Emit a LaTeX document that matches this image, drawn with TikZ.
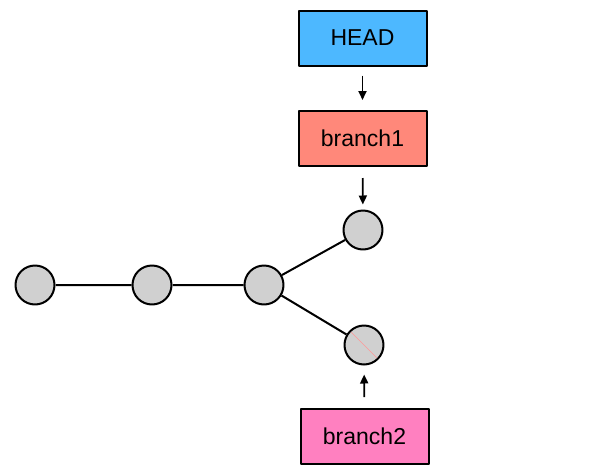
\documentclass[tikz,border=0pt]{standalone}
\usepackage{fontspec}
\setmainfont{Liberation Sans}
\usetikzlibrary{arrows.meta}
\definecolor{headblue}{RGB}{77,184,255}
\definecolor{branchred}{RGB}{255,136,122}
\definecolor{branchpink}{RGB}{255,128,192}
\definecolor{commitgray}{RGB}{208,208,208}
\begin{document}
\begin{tikzpicture}[x=1pt, y=-1pt, font=\fontsize{23}{27}\selectfont, line join=round,
		>={Triangle[length=9pt,width=8pt]},
		commit/.style={circle, draw, line width=2pt, fill=commitgray, minimum size=39pt, inner sep=0pt},
		ref/.style={rectangle, draw, line width=2pt, minimum width=128pt, minimum height=55pt, inner sep=0pt}]
				\useasboundingbox (0,0) rectangle (590,472);
				\node[ref, fill=headblue] (head) at (362.5,38) {HEAD};
				\node[ref, fill=branchred] (b1) at (362.5,138.5) {branch1};
				\node[ref, fill=branchpink] (b2) at (364.5,436.5) {branch2};
				\node[commit] (c1) at (35,285) {};
				\node[commit] (c2) at (152,285) {};
				\node[commit] (c3) at (264,285) {};
				\node[commit] (c4) at (363,230) {};
				\node[commit] (c5) at (364,345) {};
				\draw[line width=2pt] (c1)--(c2) (c2)--(c3) (c3)--(c4) (c3)--(c5);
				\draw[red!40, line width=0.4pt] (351,332)--(377,358);
				\draw[->, line width=1.8pt, shorten <=9pt, shorten >=10pt] (head)--(b1);
				\draw[->, line width=1.8pt, shorten <=11pt, shorten >=5pt] (b1)--(c4);
				\draw[->, line width=1.8pt, shorten <=11pt, shorten >=9pt] (b2)--(c5);
			\end{tikzpicture}
\end{document}
